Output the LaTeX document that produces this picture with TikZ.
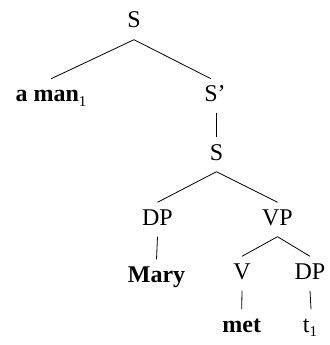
\documentclass[tikz,border=0pt]{standalone}
\usepackage[no-math]{fontspec}
\setmainfont{Liberation Serif}
\newcommand{\subone}{\raisebox{-4.5pt}{\fontsize{15}{18}\selectfont 1}}
\begin{document}
\begin{tikzpicture}[x=1pt,y=-1pt,
  lbl/.style={anchor=base,inner xsep=0pt,inner ysep=6.5pt,text height=16pt,text depth=5pt,font=\fontsize{24}{28}\selectfont},
  edge/.style={line width=0.8pt}]
\useasboundingbox (0,0) rectangle (329,345);
\node[lbl] (s)    at (134,28)    {S};
\node[lbl] (aman) at (51,101.5)  {\textbf{a man}\subone};
\node[lbl] (sp)   at (215,101.5) {S’};
\node[lbl] (s2)   at (216.5,160) {S};
\node[lbl] (dp)   at (157.5,225) {DP};
\node[lbl] (vp)   at (277.5,225) {VP};
\node[lbl] (mary) at (156.5,282) {\textbf{Mary}};
\node[lbl] (v)    at (242,279)   {V};
\node[lbl] (dp2)  at (310,279)   {DP};
\node[lbl] (met)  at (241.7,332) {\textbf{met}};
\node[lbl] (t)    at (310,332)   {t\subone};
\draw[edge] (s.south) -- (aman.north);
\draw[edge] (s.south) -- ([xshift=-4pt]sp.north);
\draw[edge] ([xshift=1.5pt]sp.south) -- (s2.north);
\draw[edge] (s2.south) -- (dp.north);
\draw[edge] (s2.south) -- (vp.north);
\draw[edge] (dp.south) -- (mary.north);
\draw[edge] (vp.south) -- (v.north);
\draw[edge] (vp.south) -- (dp2.north);
\draw[edge] (v.south) -- (met.north);
\draw[edge] (dp2.south) -- ([xshift=1pt]t.north);
\end{tikzpicture}
\end{document}
